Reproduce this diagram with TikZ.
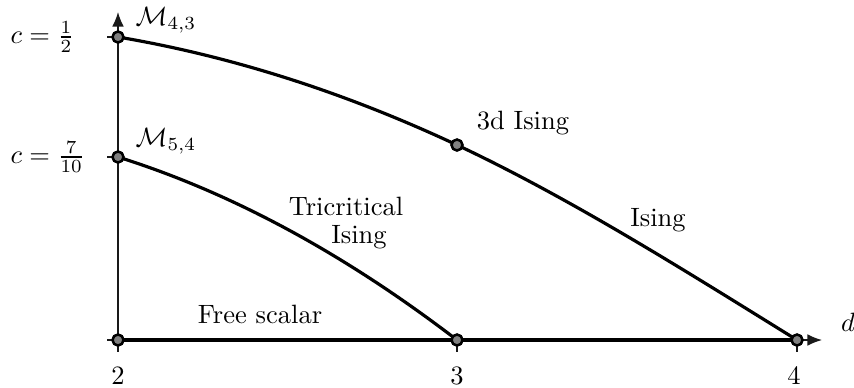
\documentclass[tikz,border=0pt]{standalone}
\usetikzlibrary{arrows.meta}
\begin{document}
\begin{tikzpicture}[x=0.3774pt,y=-0.3774pt,
  axisline/.style={line width=0.5pt, draw=black!90, -{Latex[length=5.5pt,width=4.4pt]}},
  tickline/.style={line width=0.5pt, draw=black!90},
  curve/.style={line width=1.2pt, line cap=round},
  dot/.style={circle, draw=black, line width=0.9pt, fill=black!50, inner sep=0pt, minimum size=4.1pt},
  lbl/.style={inner sep=0pt}]
\useasboundingbox (0,0) rectangle (854,387);
% axes
\coordinate (O) at (118,340);
\coordinate (xend) at (822,340);
\coordinate (yend) at (118,12);
\draw[axisline] (O) -- (xend);
\draw[axisline] (O) -- (yend);
% ticks
\coordinate (ty0) at (107,340);
\coordinate (ty1) at (107,157);
\coordinate (ty2) at (107,37);
\coordinate (tx2) at (118,352);
\coordinate (tx3) at (457,352);
\coordinate (tx4) at (797,352);
% points
\node[dot] (p2) at (118,340) {};
\node[dot] (p3) at (457,340) {};
\node[dot] (p4) at (797,340) {};
\node[dot] (m43) at (118,37) {};
\node[dot] (m54) at (118,157) {};
\node[dot] (i3) at (457,145) {};
\draw[tickline] (ty0) -- (p2.center);
\draw[tickline] (ty1) -- (m54.center);
\draw[tickline] (ty2) -- (m43.center);
\draw[tickline] (p2.center) -- (tx2);
\draw[tickline] (p3.center) -- (tx3);
\draw[tickline] (p4.center) -- (tx4);
% curves
\draw[curve] (p2.center) -- (p4.center);
\draw[curve] (m54.center) .. controls (231,192.4) and (344,253.4) .. (p3.center);
\draw[curve] (m43.center) .. controls (231,56.1) and (344,92.1) .. (i3.center)
  .. controls (570,198.1) and (684,270) .. (p4.center);
% redraw dots on top
\node[dot] at (p2) {};
\node[dot] at (p3) {};
\node[dot] at (p4) {};
\node[dot] at (m43) {};
\node[dot] at (m54) {};
\node[dot] at (i3) {};
% labels
\node[lbl, anchor=west] (c1) at (10,37) {$c=\frac{1}{2}$};
\node[lbl, anchor=west] (c2) at (10,157) {$c=\frac{7}{10}$};
\node[lbl] (l43) at (166,20) {$\mathcal{M}_{4,3}$};
\node[lbl] (l54) at (166,141) {$\mathcal{M}_{5,4}$};
\node[lbl] (x2) at (118,376) {$2$};
\node[lbl] (x3) at (457,376) {$3$};
\node[lbl] (x4) at (794,376) {$4$};
\node[lbl] (dl) at (848,322) {$d$};
\node[lbl] (t3d) at (523,123) {3d Ising};
\node[lbl] (tising) at (658,220) {Ising};
\node[lbl] (ttri1) at (346,206) {Tricritical};
\node[lbl] (ttri2) at (359,237) {Ising};
\node[lbl] (tfree) at (260,314) {Free scalar};
\end{tikzpicture}
\end{document}
